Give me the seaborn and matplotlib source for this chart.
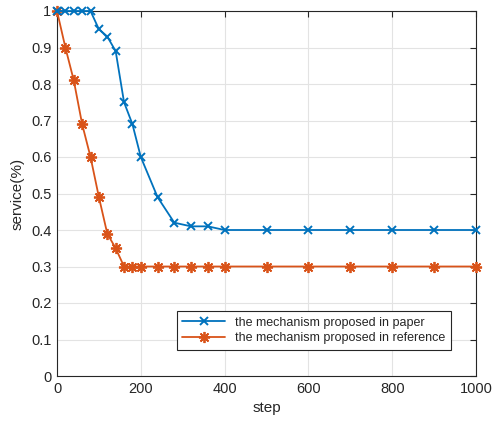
import matplotlib
matplotlib.use("Agg")
import matplotlib.pyplot as plt
import seaborn as sns
import pandas as pd

steps = [0, 20, 40, 60, 80, 100, 120, 140, 160, 180, 200, 240, 280, 320, 360,
         400, 500, 600, 700, 800, 900, 1000]
paper = [1.0, 1.0, 1.0, 1.0, 1.0, 0.95, 0.93, 0.89, 0.75, 0.69, 0.60, 0.49, 0.42,
         0.41, 0.41, 0.40, 0.40, 0.40, 0.40, 0.40, 0.40, 0.40]
reference = [1.0, 0.90, 0.81, 0.69, 0.60, 0.49, 0.39, 0.35, 0.30, 0.30, 0.30, 0.30,
             0.30, 0.30, 0.30, 0.30, 0.30, 0.30, 0.30, 0.30, 0.30, 0.30]
labels = ["the mechanism proposed in paper", "the mechanism proposed in reference"]
xticks = [0, 200, 400, 600, 800, 1000]
yticks = [0, 0.1, 0.2, 0.3, 0.4, 0.5, 0.6, 0.7, 0.8, 0.9, 1]

sns.set_theme(style="whitegrid")
plt.rcParams["font.family"] = ["Liberation Sans", "DejaVu Sans"]

df = pd.DataFrame({"step": steps, "paper": paper, "reference": reference})

fig = plt.figure(figsize=(4.97, 4.21), dpi=100)
ax = fig.add_axes([57 / 497, 45 / 421, 419 / 497, 365 / 421])

blue, orange = "#0072BD", "#D95319"
sns.lineplot(data=df, x="step", y="paper", ax=ax, color=blue, marker="x",
             markersize=6, markeredgewidth=1.4, markeredgecolor=blue,
             linewidth=1.3, label=labels[0], clip_on=False, zorder=4)
# eight-armed asterisk marker
sns.lineplot(data=df, x="step", y="reference", ax=ax, color=orange, marker=(8, 2, 0),
             markersize=8, markeredgewidth=1.3, markeredgecolor=orange,
             linewidth=1.3, label=labels[1], clip_on=False, zorder=3)

ax.set_xlim(0, 1000)
ax.set_ylim(0, 1)
ax.set_xticks(xticks)
ax.set_yticks(yticks)
ax.set_yticklabels(["0", "0.1", "0.2", "0.3", "0.4", "0.5", "0.6", "0.7", "0.8", "0.9", "1"])
ax.set_xlabel("step", fontsize=11, color="#262626", labelpad=4)
ax.set_ylabel("service(%)", fontsize=11, color="#262626", labelpad=5)

ax.set_facecolor("white")
ax.grid(True, color="#e3e3e3", linewidth=0.8)
for s in ax.spines.values():
    s.set_visible(True)
    s.set_color("#262626")
    s.set_linewidth(0.8)
    s.set_zorder(2)
ax.tick_params(direction="in", top=True, right=True, length=4, width=0.8,
               color="#262626", labelsize=10.5, labelcolor="#262626", pad=4)

leg = ax.legend(loc="upper left", bbox_to_anchor=(0.286, 0.178), frameon=True,
                fontsize=9, fancybox=False, borderpad=0.45, handlelength=3.4,
                labelspacing=0.3, borderaxespad=0)
leg.get_frame().set_edgecolor("#262626")
leg.get_frame().set_linewidth(0.8)
leg.get_frame().set_alpha(1)
leg.set_zorder(10)

fig.savefig("out.png", dpi=100, facecolor="white")
